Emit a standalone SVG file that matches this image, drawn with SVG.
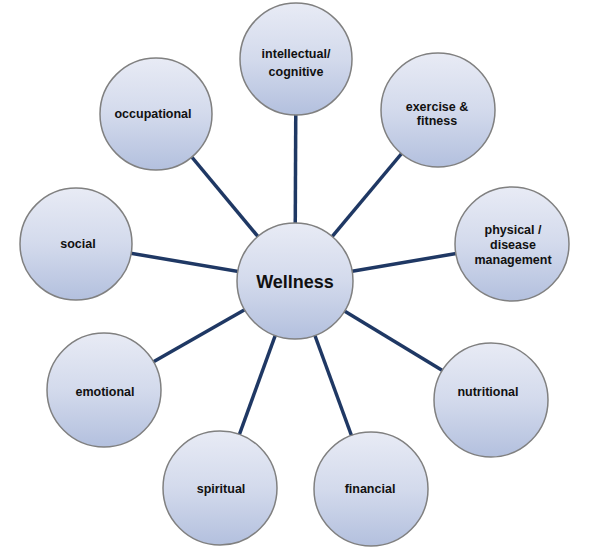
<svg xmlns="http://www.w3.org/2000/svg" width="593" height="556" viewBox="0 0 593 556">
  <defs>
    <linearGradient id="fill" x1="0" y1="0" x2="0" y2="1">
      <stop offset="0" stop-color="#e8ebf5"/>
      <stop offset="0.5" stop-color="#d3daec"/>
      <stop offset="1" stop-color="#b3c0de"/>
    </linearGradient>
  </defs>
  <style>
    .node circle { fill: url(#fill); stroke: #808080; stroke-width: 1.5; }
    .node text { font-family: "Liberation Sans", Arial, sans-serif; font-weight: bold; font-size: 12.5px; fill: #111; text-anchor: middle; }
    .node text.big { font-size: 18px; }
    .conn line { stroke: #1f3864; stroke-width: 3.5; }
  </style>
  <rect width="593" height="556" fill="#ffffff"/>
  <g id="connectors" class="conn">
    <line x1="295" y1="281" x2="296" y2="59"/>
    <line x1="295" y1="281" x2="438" y2="110"/>
    <line x1="295" y1="281" x2="512" y2="244"/>
    <line x1="295" y1="281" x2="491" y2="400"/>
    <line x1="295" y1="281" x2="371" y2="489"/>
    <line x1="295" y1="281" x2="220" y2="488"/>
    <line x1="295" y1="281" x2="104" y2="390"/>
    <line x1="295" y1="281" x2="76" y2="244"/>
    <line x1="295" y1="281" x2="156" y2="114"/>
  </g>
  <g id="wellness" class="node">
    <circle cx="295" cy="281" r="58"/>
    <text class="big" x="295" y="288">Wellness</text>
  </g>
  <g id="intellectual" class="node">
    <circle cx="296" cy="59" r="56"/>
    <text x="296" y="58">intellectual/</text>
    <text x="296" y="76">cognitive</text>
  </g>
  <g id="exercise" class="node">
    <circle cx="438" cy="110" r="57"/>
    <text x="437" y="111">exercise &amp;</text>
    <text x="437" y="125">fitness</text>
  </g>
  <g id="physical" class="node">
    <circle cx="512" cy="244" r="57"/>
    <text x="513" y="234">physical /</text>
    <text x="513" y="249">disease</text>
    <text x="513" y="264">management</text>
  </g>
  <g id="nutritional" class="node">
    <circle cx="491" cy="400" r="57"/>
    <text x="488" y="396">nutritional</text>
  </g>
  <g id="financial" class="node">
    <circle cx="371" cy="489" r="57"/>
    <text x="370" y="493">financial</text>
  </g>
  <g id="spiritual" class="node">
    <circle cx="220" cy="488" r="57"/>
    <text x="221" y="493">spiritual</text>
  </g>
  <g id="emotional" class="node">
    <circle cx="104" cy="390" r="57"/>
    <text x="105" y="396">emotional</text>
  </g>
  <g id="social" class="node">
    <circle cx="76" cy="244" r="56"/>
    <text x="78" y="248">social</text>
  </g>
  <g id="occupational" class="node">
    <circle cx="156" cy="114" r="56"/>
    <text x="153" y="118">occupational</text>
  </g>
</svg>
